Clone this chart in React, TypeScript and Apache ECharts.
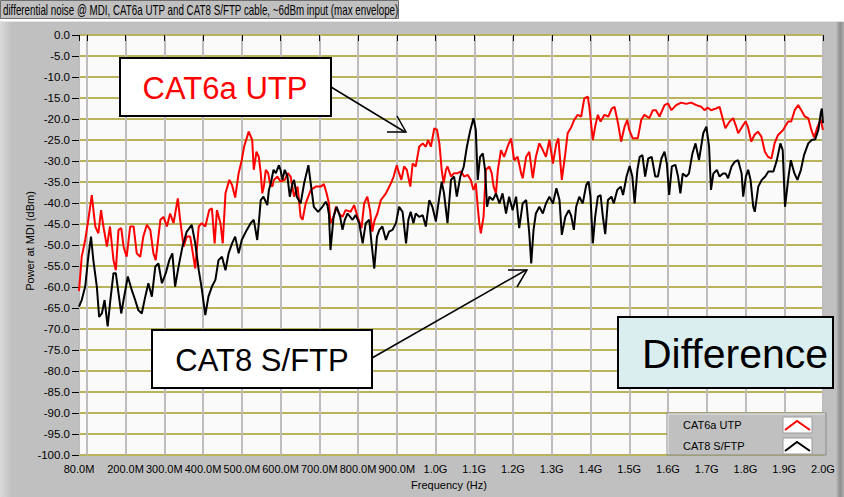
import React, { useEffect, useRef } from "react";
import * as echarts from "echarts";

// ---- data (frequency in MHz, power in dBm) ----
const xTickValues = [80, 100, 200, 300, 400, 500, 600, 700, 800, 900, 1000, 1100, 1200, 1300, 1400, 1500, 1600, 1700, 1800, 1900, 2000];
const xLabelValues = [80, 200, 300, 400, 500, 600, 700, 800, 900, 1000, 1100, 1200, 1300, 1400, 1500, 1600, 1700, 1800, 1900, 2000];

const cat6aUtp: [number, number][] = [
  [80,-61],[87,-52.8],[96,-48.8],[104,-44],[113,-38.1],[122,-45.6],[130,-47.2],[137,-41.7],[143,-45.6],[152,-50.4],[160,-45.6],[169,-53.6],[175,-56],[182,-46.4],[189,-46],[195,-50.4],[203,-52.8],[212,-45.6],[221,-45.6],[229,-52],[238,-52.8],[246,-48],[255,-45.2],[264,-46.4],[272,-52],[278,-53.6],[290,-44],[298,-43.3],[307,-45.6],[315,-42.5],[324,-44.8],[335,-38.9],[341,-44],[350,-50.4],[358,-48],[367,-48],[380,-55.6],[389,-45.6],[397,-44.8],[406,-45.6],[416,-41.7],[423,-41.3],[430,-49.6],[436,-41.7],[445,-44.8],[451,-49.6],[458,-37.7],[468,-34.5],[475,-35.7],[483,-38.7],[492,-32.9],[500,-29.8],[506,-26.6],[518,-23],[527,-25],[531,-32.1],[538,-27.8],[544,-29],[549,-32.9],[553,-37.7],[557,-36.1],[562,-32.1],[568,-32.9],[573,-35.3],[579,-36.1],[583,-34.5],[592,-33.7],[600,-34.9],[611,-34.5],[619,-32.9],[626,-33.7],[635,-38.5],[644,-36.1],[652,-43.3],[657,-44],[665,-40.1],[678,-36.9],[691,-36.1],[704,-36.1],[712,-35.5],[719,-37.7],[725,-40.1],[729,-44.8],[737,-43.3],[743,-40.9],[751,-42.5],[760,-43.3],[768,-41.7],[781,-42.1],[790,-40.5],[799,-43.3],[809,-46],[816,-40.1],[824,-38.5],[831,-41.7],[837,-46.8],[843,-44],[850,-42.5],[859,-39.3],[872,-37.7],[885,-35.3],[892,-33.7],[900,-31],[906,-32.9],[912,-34.5],[919,-31.3],[926,-32.1],[935,-36.1],[941,-30.6],[949,-31.3],[958,-26.6],[967,-25.8],[975,-26.6],[981,-25],[988,-26.6],[997,-22.2],[1004,-22.6],[1010,-25.8],[1016,-32.1],[1021,-35.3],[1027,-32.1],[1031,-31.3],[1040,-33.7],[1048,-32.9],[1057,-32.9],[1066,-32.5],[1074,-33.7],[1083,-33.3],[1091,-34.5],[1098,-36.9],[1104,-35.3],[1109,-40.9],[1113,-44.8],[1117,-47.2],[1124,-43.3],[1130,-32.1],[1139,-31.3],[1145,-32.9],[1150,-36.1],[1156,-37.7],[1161,-32.1],[1169,-27.4],[1177,-29],[1186,-26.6],[1195,-24.6],[1203,-29.8],[1212,-29],[1221,-32.9],[1225,-34.1],[1234,-29],[1242,-27.8],[1251,-34.1],[1259,-29],[1268,-25.8],[1277,-27.4],[1285,-29],[1294,-25],[1303,-30.6],[1312,-25.8],[1317,-24.6],[1326,-34.5],[1335,-28.2],[1341,-23.4],[1350,-22],[1358,-20.2],[1367,-19],[1376,-19.4],[1384,-15.1],[1393,-14.7],[1397,-17.1],[1406,-25],[1412,-21.8],[1419,-19],[1426,-20.6],[1436,-19],[1446,-19.4],[1455,-17.5],[1462,-17.1],[1471,-21],[1479,-25.4],[1488,-21.8],[1495,-20.2],[1500,-22.6],[1509,-24.6],[1522,-24.6],[1531,-20.2],[1539,-19],[1552,-19.8],[1561,-17.9],[1569,-17.9],[1578,-19.4],[1591,-16.7],[1600,-16.3],[1609,-17.9],[1621,-16.7],[1634,-16.1],[1647,-16.4],[1660,-16.1],[1673,-16.7],[1686,-17.1],[1694,-17.9],[1703,-17.3],[1711,-17.9],[1724,-17.5],[1733,-17.1],[1742,-20.2],[1748,-22.2],[1759,-20.6],[1768,-19.8],[1776,-21.8],[1781,-23.4],[1789,-22.2],[1800,-20.6],[1806,-21.8],[1815,-25.4],[1823,-23.8],[1832,-23],[1841,-24.2],[1850,-27.8],[1858,-29],[1867,-29.4],[1875,-25.8],[1884,-23.8],[1897,-22.6],[1910,-20.6],[1918,-20.6],[1927,-17.9],[1936,-16.7],[1944,-17.9],[1953,-19.4],[1962,-19.8],[1970,-22.6],[1977,-24.4],[1986,-21.8],[1994,-20.2],[2000,-22.6]
];

const cat8Sftp: [number, number][] = [
  [80,-64.7],[87,-63.1],[96,-59.9],[104,-52.8],[111,-48],[117,-53.6],[126,-59.9],[132,-67.1],[139,-66.3],[146,-63.1],[154,-69.4],[160,-63.9],[169,-56.7],[175,-56.7],[182,-61.5],[189,-66.3],[195,-63.1],[206,-57.5],[216,-60.7],[225,-63.1],[233,-65.5],[242,-66.3],[251,-62.3],[259,-59.1],[268,-62.3],[277,-55.1],[285,-54.4],[294,-59.1],[304,-56.7],[313,-53.6],[321,-52],[328,-59.9],[337,-55.1],[347,-50.4],[358,-46.8],[371,-45.2],[380,-49.6],[389,-56],[396,-59.9],[406,-66.7],[414,-62.3],[423,-59.9],[432,-58.3],[440,-53.6],[449,-52.8],[458,-56],[466,-52],[475,-49.6],[483,-48],[492,-52],[500,-48.8],[513,-46.4],[523,-44.8],[531,-44],[540,-48.8],[544,-44.8],[549,-39.3],[556,-38.5],[562,-39.7],[566,-40.5],[570,-36.9],[575,-35.3],[582,-32.1],[588,-32.9],[596,-31],[600,-32.1],[605,-34.5],[611,-32.1],[618,-33.7],[624,-38.5],[631,-35.3],[635,-34.5],[642,-38.5],[652,-40.1],[661,-35.3],[672,-31],[678,-35.3],[686,-40.9],[697,-42.1],[708,-40.9],[717,-39.7],[721,-40.5],[725,-42.7],[729,-51.2],[737,-43.3],[745,-40.9],[754,-43.3],[760,-46.4],[766,-44],[773,-42.5],[786,-44],[794,-42.9],[803,-44.8],[812,-49.6],[820,-44.8],[829,-44],[835,-49.6],[842,-55.6],[849,-48],[855,-46.4],[863,-45.6],[872,-48.8],[880,-46.8],[889,-46.4],[898,-44.8],[906,-40.9],[915,-42.1],[924,-49.6],[930,-44],[936,-42.1],[943,-44.8],[949,-42.5],[958,-43.3],[967,-42.9],[975,-45.6],[984,-39.3],[992,-40.9],[1001,-44.4],[1010,-38.5],[1016,-34.9],[1022,-37.7],[1031,-44.8],[1040,-34.5],[1048,-33.7],[1055,-38.5],[1064,-33.7],[1073,-31.3],[1081,-26.6],[1090,-22.6],[1098,-19.8],[1104,-22.6],[1109,-34.5],[1115,-29],[1122,-28.2],[1128,-32.1],[1133,-40.9],[1139,-38.5],[1148,-39.3],[1156,-37.7],[1165,-40.1],[1173,-37.7],[1182,-42.5],[1190,-38.5],[1199,-41.7],[1208,-38.5],[1216,-46],[1225,-40.1],[1234,-39.3],[1242,-47.2],[1247,-54.4],[1253,-46.4],[1259,-42.5],[1268,-40.9],[1277,-42.5],[1285,-40.1],[1294,-38.5],[1303,-40.1],[1312,-36.5],[1320,-39.3],[1326,-47.6],[1335,-43.3],[1344,-41.7],[1350,-43],[1357,-46.4],[1363,-40.9],[1371,-38.5],[1380,-40.1],[1389,-35.7],[1395,-34.9],[1400,-38.5],[1406,-49.6],[1412,-43.3],[1419,-38.5],[1426,-38.1],[1432,-43.3],[1438,-47.4],[1445,-39.3],[1454,-38.5],[1460,-40.1],[1469,-36.9],[1478,-36.1],[1484,-38.1],[1493,-33.7],[1501,-31.2],[1508,-33.7],[1514,-40.1],[1521,-32.1],[1527,-29],[1534,-28.6],[1541,-33.7],[1549,-29.4],[1558,-29],[1567,-33.7],[1574,-33.7],[1583,-29.4],[1591,-27.8],[1597,-30.6],[1603,-38.1],[1610,-31.3],[1619,-30.9],[1626,-33.7],[1632,-37.7],[1638,-33],[1647,-33.7],[1654,-33],[1663,-28.2],[1671,-25.8],[1680,-29.8],[1691,-23.4],[1699,-21.8],[1706,-26.6],[1711,-36.9],[1717,-33],[1726,-32.1],[1733,-33.7],[1742,-33],[1749,-33],[1755,-34.1],[1764,-31.3],[1772,-30.2],[1781,-29.8],[1790,-33],[1794,-38.5],[1801,-33.7],[1807,-32.1],[1813,-34.5],[1820,-40.9],[1824,-42.1],[1833,-36.1],[1842,-34.5],[1851,-33.7],[1859,-32.5],[1872,-32.5],[1881,-29.8],[1890,-25.8],[1896,-27.4],[1902,-40.9],[1911,-33.7],[1917,-29.8],[1926,-32.9],[1934,-34.5],[1943,-32.1],[1951,-28.6],[1962,-25.8],[1971,-25],[1980,-24.8],[1988,-22.6],[1994,-18.7],[1997,-17.5],[2000,-21]
];

const titleText = "differential noise @ MDI, CAT6a UTP and CAT8 S/FTP cable, ~6dBm input (max envelope)";
const xAxisTitle = "Frequency (Hz)";
const yAxisTitle = "Power at MDI (dBm)";
const seriesNames = ["CAT6a UTP", "CAT8 S/FTP"];
const annotationTexts = ["CAT6a UTP", "CAT8 S/FTP", "Difference"];

const SANS = "'Liberation Sans', Arial, sans-serif";

function fmtFreq(v: number) {
  return v < 1000 ? v.toFixed(1) + "M" : (v / 1000).toFixed(1) + "G";
}

export default function App() {
  const ref = useRef<HTMLDivElement>(null);

  useEffect(() => {
    document.body.style.margin = "0";
    if (!ref.current) return;
    const chart = echarts.init(ref.current, null, { renderer: "svg" });

    const legendX = 667, legendY = 413;

    chart.setOption({
      animation: false,
      backgroundColor: "#c0c0c0",
      grid: {
        left: 79,
        right: 21,
        top: 35,
        bottom: 42,
        show: true,
        backgroundColor: "#fafafa",
        borderColor: "#8c8c8c",
        borderWidth: 1,
      },
      xAxis: {
        type: "value",
        min: 80,
        max: 2000,
        axisLine: { show: false },
        axisTick: { show: true, length: 6, lineStyle: { color: "#000", width: 1 }, customValues: xTickValues },
        axisLabel: {
          customValues: xLabelValues,
          formatter: (v: number) => fmtFreq(v),
          color: "#000",
          fontFamily: SANS,
          fontSize: 11,
          margin: 8,
          showMinLabel: true,
          showMaxLabel: true,
        },
        splitLine: { show: true, lineStyle: { color: "#bdbdbd", width: 2 } },
      },
      yAxis: {
        type: "value",
        min: -100,
        max: 0,
        interval: 5,
        axisLine: { show: false },
        axisTick: { show: true, length: 7, lineStyle: { color: "#000", width: 1 } },
        axisLabel: {
          formatter: (v: number) => v.toFixed(1),
          color: "#000",
          fontFamily: SANS,
          fontSize: 11.5,
          margin: 9,
        },
        splitLine: { show: true, lineStyle: { color: "#b9b45b", width: 2 } },
      },
      series: [
        {
          name: seriesNames[0],
          type: "line",
          data: cat6aUtp,
          showSymbol: false,
          lineStyle: { color: "#ff0000", width: 2 },
          itemStyle: { color: "#ff0000" },
          z: 3,
        },
        {
          name: seriesNames[1],
          type: "line",
          data: cat8Sftp,
          showSymbol: false,
          lineStyle: { color: "#000000", width: 2 },
          itemStyle: { color: "#000000" },
          z: 4,
        },
      ],
      graphic: [
        // top white strip and title box
        { type: "rect", shape: { x: 0, y: 0, width: 844, height: 21 }, style: { fill: "#ffffff" }, z: 1 },
        { type: "rect", shape: { x: 0.5, y: 0.5, width: 398, height: 18 }, style: { fill: "#c0c0c0", stroke: "#6e6e6e", lineWidth: 1 }, z: 2 },
        {
          type: "text", x: 3, y: 10, z: 3, scaleX: 0.7, scaleY: 1,
          style: { text: titleText, fill: "#000", font: `14px ${SANS}`, verticalAlign: "middle" },
        },
        { type: "line", shape: { x1: 0, y1: 21.5, x2: 844, y2: 21.5 }, style: { stroke: "#e6e6e6", lineWidth: 1 }, z: 2 },
        // left light bevel
        {
          type: "rect", shape: { x: 0, y: 22, width: 12, height: 475 }, z: 1,
          style: { fill: new echarts.graphic.LinearGradient(0, 0, 1, 0, [{ offset: 0, color: "#dadada" }, { offset: 1, color: "#c0c0c0" }]) },
        },
        // right side shading
        {
          type: "rect", shape: { x: 836, y: 22, width: 8, height: 475 }, z: 1,
          style: { fill: new echarts.graphic.LinearGradient(0, 0, 1, 0, [{ offset: 0, color: "#c0c0c0" }, { offset: 0.5, color: "#8e8e8e" }, { offset: 1, color: "#b0b0b0" }]) },
        },
        // axis titles
        {
          type: "text", x: 30, y: 241, rotation: Math.PI / 2, z: 5,
          style: { text: yAxisTitle, fill: "#000", font: `11px ${SANS}`, align: "center", verticalAlign: "middle" },
        },
        {
          type: "text", x: 449, y: 485, z: 5,
          style: { text: xAxisTitle, fill: "#000", font: `11px ${SANS}`, align: "center", verticalAlign: "middle" },
        },
        // legend
        {
          type: "group", z: 50,
          children: [
            { type: "rect", shape: { x: legendX, y: legendY, width: 159, height: 42 }, style: { fill: "#c0c0c0", stroke: "#8a8a8a", lineWidth: 1 }, z: 50 },
            { type: "polyline", shape: { points: [[legendX + 1, legendY + 41], [legendX + 1, legendY + 1], [legendX + 158, legendY + 1]] }, style: { stroke: "#e8e8e8", lineWidth: 1, fill: null }, z: 51 },
            { type: "text", x: 683, y: 425, z: 52, style: { text: seriesNames[0], fill: "#000", font: `11px ${SANS}`, verticalAlign: "middle" } },
            { type: "text", x: 683, y: 446, z: 52, style: { text: seriesNames[1], fill: "#000", font: `11px ${SANS}`, verticalAlign: "middle" } },
            { type: "rect", shape: { x: 783, y: 417, width: 29, height: 16 }, style: { fill: "#ffffff", stroke: "#9a9a9a", lineWidth: 1 }, z: 51 },
            { type: "rect", shape: { x: 783, y: 438, width: 29, height: 16 }, style: { fill: "#ffffff", stroke: "#9a9a9a", lineWidth: 1 }, z: 51 },
            { type: "polyline", shape: { points: [[785, 430], [797, 421], [810, 430]] }, style: { stroke: "#ff0000", lineWidth: 2, fill: null }, z: 52 },
            { type: "polyline", shape: { points: [[785, 451], [797, 442], [810, 451]] }, style: { stroke: "#000000", lineWidth: 2, fill: null }, z: 52 },
          ],
        },
        // annotation: CAT6a UTP
        { type: "rect", shape: { x: 120, y: 58, width: 211, height: 58 }, style: { fill: "#ffffff", stroke: "#000", lineWidth: 2 }, z: 60 },
        { type: "text", x: 225, y: 88, z: 61, style: { text: annotationTexts[0], fill: "#ff0000", font: `31px ${SANS}`, align: "center", verticalAlign: "middle" } },
        { type: "polyline", shape: { points: [[331, 87], [405, 132]] }, style: { stroke: "#000", lineWidth: 1.5, fill: null }, z: 60 },
        { type: "polyline", shape: { points: [[387, 132], [406, 132], [397, 116]] }, style: { stroke: "#000", lineWidth: 1.5, fill: null }, z: 60 },
        // annotation: CAT8 S/FTP
        { type: "rect", shape: { x: 152, y: 330, width: 220, height: 58 }, style: { fill: "#ffffff", stroke: "#000", lineWidth: 2 }, z: 60 },
        { type: "text", x: 262, y: 360, z: 61, style: { text: annotationTexts[1], fill: "#000", font: `31px ${SANS}`, align: "center", verticalAlign: "middle" } },
        { type: "polyline", shape: { points: [[372, 358], [526, 270]] }, style: { stroke: "#000", lineWidth: 1.5, fill: null }, z: 60 },
        { type: "polyline", shape: { points: [[508, 270], [527, 270], [517, 287]] }, style: { stroke: "#000", lineWidth: 1.5, fill: null }, z: 60 },
        // annotation: Difference
        { type: "rect", shape: { x: 618, y: 317, width: 215, height: 71 }, style: { fill: "#daeef0", stroke: "#000", lineWidth: 2 }, z: 60 },
        { type: "text", x: 735, y: 354, z: 61, style: { text: annotationTexts[2], fill: "#000", font: `41px ${SANS}`, align: "center", verticalAlign: "middle" } },
      ],
    });

    return () => chart.dispose();
  }, []);

  return <div ref={ref} style={{ width: 844, height: 497 }} />;
}
